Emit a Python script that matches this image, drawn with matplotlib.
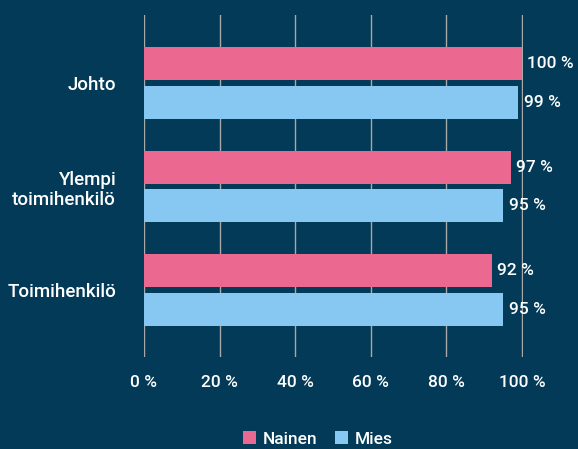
import numpy as np
import matplotlib
matplotlib.use("Agg")
import matplotlib.pyplot as plt

categories = ["Johto", "Ylempi\ntoimihenkilö", "Toimihenkilö"]
nainen = [100, 97, 92]
mies = [99, 95, 95]
xticks = [0, 20, 40, 60, 80, 100]

bg = "#023A57"
pink = "#EB6891"
blue = "#86C8F1"

plt.rcParams["font.family"] = ["Roboto", "DejaVu Sans"]
plt.rcParams["font.weight"] = "medium"

fig = plt.figure(figsize=(5.78, 4.49), dpi=100, facecolor=bg)
ax = fig.add_axes([144 / 578, 1 - 357 / 449, 378.5 / 578, 342 / 449], facecolor=bg)

y = np.arange(len(categories))
h = 0.319
off = 0.188
b1 = ax.barh(y - off, nainen, height=h, color=pink, label="Nainen", zorder=3)
b2 = ax.barh(y + off, mies, height=h, color=blue, label="Mies", zorder=3)

for bars, vals in [(b1, nainen), (b2, mies)]:
    for bar, v in zip(bars, vals):
        ax.annotate(f"{v} %", (v, bar.get_y() + bar.get_height() / 2),
                    xytext=(4, 0), textcoords="offset points",
                    va="center", ha="left", color="white", fontsize=12.5)

ax.set_xlim(0, 100.15)
ax.set_ylim(2.647, -0.657)
ax.set_xticks(xticks)
ax.set_xticklabels([f"{t} %" for t in xticks])
ax.set_yticks(y)
ax.set_yticklabels(categories, multialignment="right")
ax.tick_params(axis="x", length=0, pad=13, colors="white", labelsize=12.5)
ax.tick_params(axis="y", length=0, pad=20, colors="white", labelsize=13.5)
ax.grid(axis="x", color="#A8A8A8", linewidth=1, zorder=0)
for s in ax.spines.values():
    s.set_visible(False)

fig.legend(handles=[b1, b2], loc="center", bbox_to_anchor=(318 / 578, 1 - 439 / 449),
           ncol=2, frameon=False, labelcolor="white", fontsize=12.5,
           handlelength=0.75, handleheight=0.75, handletextpad=0.4, columnspacing=1.0)

fig.savefig("out.png", dpi=100, facecolor=bg)
